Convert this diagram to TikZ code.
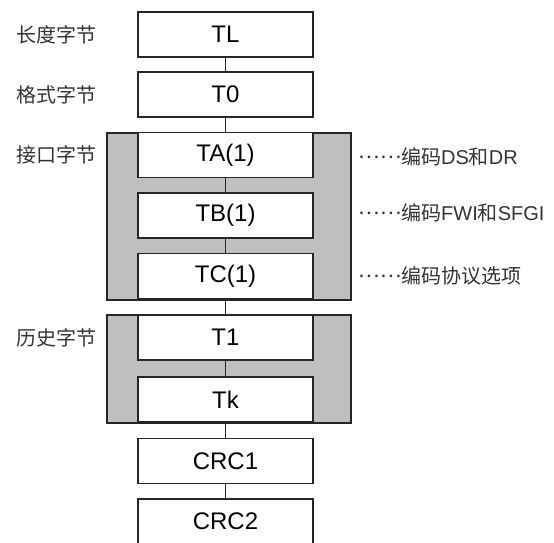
\documentclass[tikz,border=0pt]{standalone}
\usepackage{fontspec}
\setmainfont{Liberation Sans}
\newfontfamily\cjk{Noto Sans CJK SC}
\usetikzlibrary{positioning}
\newcommand{\dotlead}{\raisebox{6pt}{\cjk ……}}
\begin{document}
\begin{tikzpicture}[x=1pt, y=-1pt]
\tikzstyle{byte}=[draw=black!85, fill=white, line width=1.3pt, minimum width=175pt, minimum height=45pt, inner sep=0pt, font=\fontsize{24}{28}\selectfont];
\tikzstyle{grp}=[draw=black!85, fill=black!25, line width=1.3pt];
\tikzstyle{lbl}=[inner sep=0pt, font=\cjk\fontsize{20}{24}\selectfont, text=black!80];
\tikzstyle{note}=[inner sep=0pt, font=\fontsize{20}{24}\selectfont, text=black!80];
\tikzstyle{link}=[black!85, line width=1.3pt];
\useasboundingbox (0, 0) rectangle (554, 543);

\draw[grp] (107, 133) rectangle (351, 300);
\draw[grp] (107, 315) rectangle (351, 423);

\node[byte] (TL) at (225.5, 34.5) {TL};
\node[byte] (T0) at (225.5, 94.5) {T0};
\node[byte] (TA) at (225.5, 155) {TA(1)};
\node[byte] (TB) at (225.5, 215.5) {TB(1)};
\node[byte] (TC) at (225.5, 276) {TC(1)};
\node[byte] (T1) at (225.5, 337.5) {T1};
\node[byte] (Tk) at (225.5, 399.5) {Tk};
\node[byte] (CRC1) at (225.5, 461) {CRC1};
\node[byte] (CRC2) at (225.5, 521.5) {CRC2};

\node[lbl, left=41pt of TL] (lenlbl) {长度字节};
\node[lbl, left=41pt of T0] (fmtlbl) {格式字节};
\node[lbl, left=41pt of TA] (ifclbl) {接口字节};
\node[lbl, left=41pt of T1] (hislbl) {历史字节};

\node[note, right=45pt of TA, yshift=-2pt] (noteA) {\dotlead{\cjk 编码}DS{\cjk 和}DR};
\node[note, right=45pt of TB, yshift=3pt] (noteB) {\dotlead{\cjk 编码}FWI{\cjk 和}SFGI};
\node[note, right=45pt of TC] (noteC) {\dotlead{\cjk 编码协议选项}};

\draw[link] (TL) -- (T0);
\draw[link] (T0) -- (TA);
\draw[link] (TA) -- (TB);
\draw[link] (TB) -- (TC);
\draw[link] (TC) -- (T1);
\draw[link] (T1) -- (Tk);
\draw[link] (Tk) -- (CRC1);
\draw[link] (CRC1) -- (CRC2);
\end{tikzpicture}
\end{document}
